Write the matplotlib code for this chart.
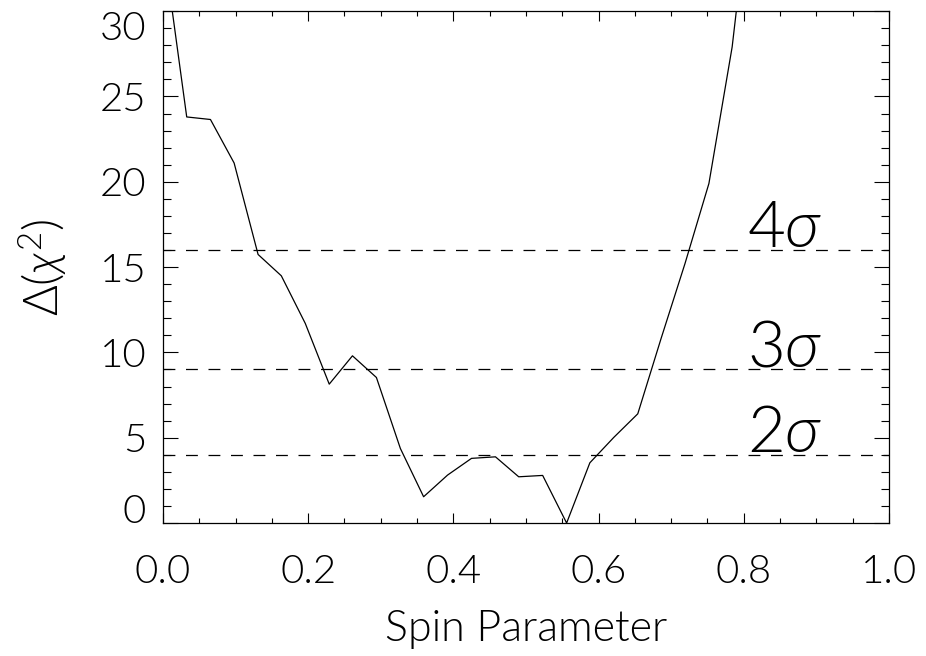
import matplotlib
matplotlib.use('Agg')
import matplotlib.pyplot as plt
from matplotlib.ticker import MultipleLocator, FormatStrFormatter, FuncFormatter

plt.rcParams['font.family'] = ['Lato', 'DejaVu Sans']
plt.rcParams['font.weight'] = 300
plt.rcParams['axes.labelweight'] = 300
plt.rcParams['mathtext.fontset'] = 'custom'
plt.rcParams['mathtext.rm'] = 'Lato:weight=300'
plt.rcParams['mathtext.it'] = 'Lato:italic:weight=300'
plt.rcParams['mathtext.bf'] = 'Lato:bold'

# values
spin = [0.0, 0.0327, 0.0654, 0.098, 0.131, 0.163, 0.196, 0.229, 0.261, 0.294,
        0.327, 0.359, 0.392, 0.425, 0.458, 0.490, 0.523, 0.556, 0.588, 0.621,
        0.654, 0.686, 0.719, 0.752, 0.784, 0.817]
dchi2 = [34.0, 23.8, 23.65, 21.1, 15.74, 14.49, 11.7, 8.14, 9.8, 8.53,
         4.37, 1.54, 2.81, 3.79, 3.88, 2.71, 2.79, 0.0, 3.53, 5.02,
         6.4, 10.8, 15.2, 19.9, 27.9, 40.0]

sigma_levels = [4, 9, 16]
sigma_labels = ['2', '3', '4']
yticks = [0, 5, 10, 15, 20, 25, 30]

fig = plt.figure(figsize=(9.26, 6.56), dpi=100)
ax = fig.add_axes([0.176, 0.2027, 0.784, 0.7803])

ax.plot(spin, dchi2, color='black', lw=0.9)

for lev, lab in zip(sigma_levels, sigma_labels):
    ax.axhline(lev, color='black', lw=0.9, dashes=(9.5, 8.5))
    ax.text(0.804, lev + 0.15, lab + r'$\sigma$', fontsize=47, va='baseline', ha='left')

ax.set_xlim(0, 1)
ax.set_ylim(yticks[0], yticks[-1])
ax.xaxis.set_major_locator(MultipleLocator(0.2))
ax.xaxis.set_minor_locator(MultipleLocator(0.05))
ax.set_yticks(yticks)
ax.yaxis.set_minor_locator(MultipleLocator(1))
ax.xaxis.set_major_formatter(FormatStrFormatter('%.1f'))
# the two end labels are drawn separately below, kept inside the frame
ax.yaxis.set_major_formatter(FuncFormatter(
    lambda v, p: '' if v in (yticks[0], yticks[-1]) else '%d' % v))

ax.tick_params(which='both', direction='in', top=True, right=True, labelsize=29, width=0.8)
ax.tick_params(axis='x', which='major', length=7.5, pad=22)
ax.tick_params(axis='x', which='minor', length=3.7)
ax.tick_params(axis='y', which='major', length=11, pad=12)
ax.tick_params(axis='y', which='minor', length=5.5)
for s in ax.spines.values():
    s.set_linewidth(0.9)

trans = ax.get_yaxis_text1_transform(12)[0]
ax.text(0, yticks[0], '%d' % yticks[0], transform=trans, fontsize=29,
        ha='right', va='baseline')
ax.text(0, yticks[-1], '%d' % yticks[-1], transform=trans, fontsize=29,
        ha='right', va='top')

ax.set_xlabel('Spin Parameter', fontsize=31, labelpad=15)
ax.set_ylabel(r'$\Delta(\chi^2)$', fontsize=34, labelpad=22)

fig.savefig('out.png', dpi=100)
